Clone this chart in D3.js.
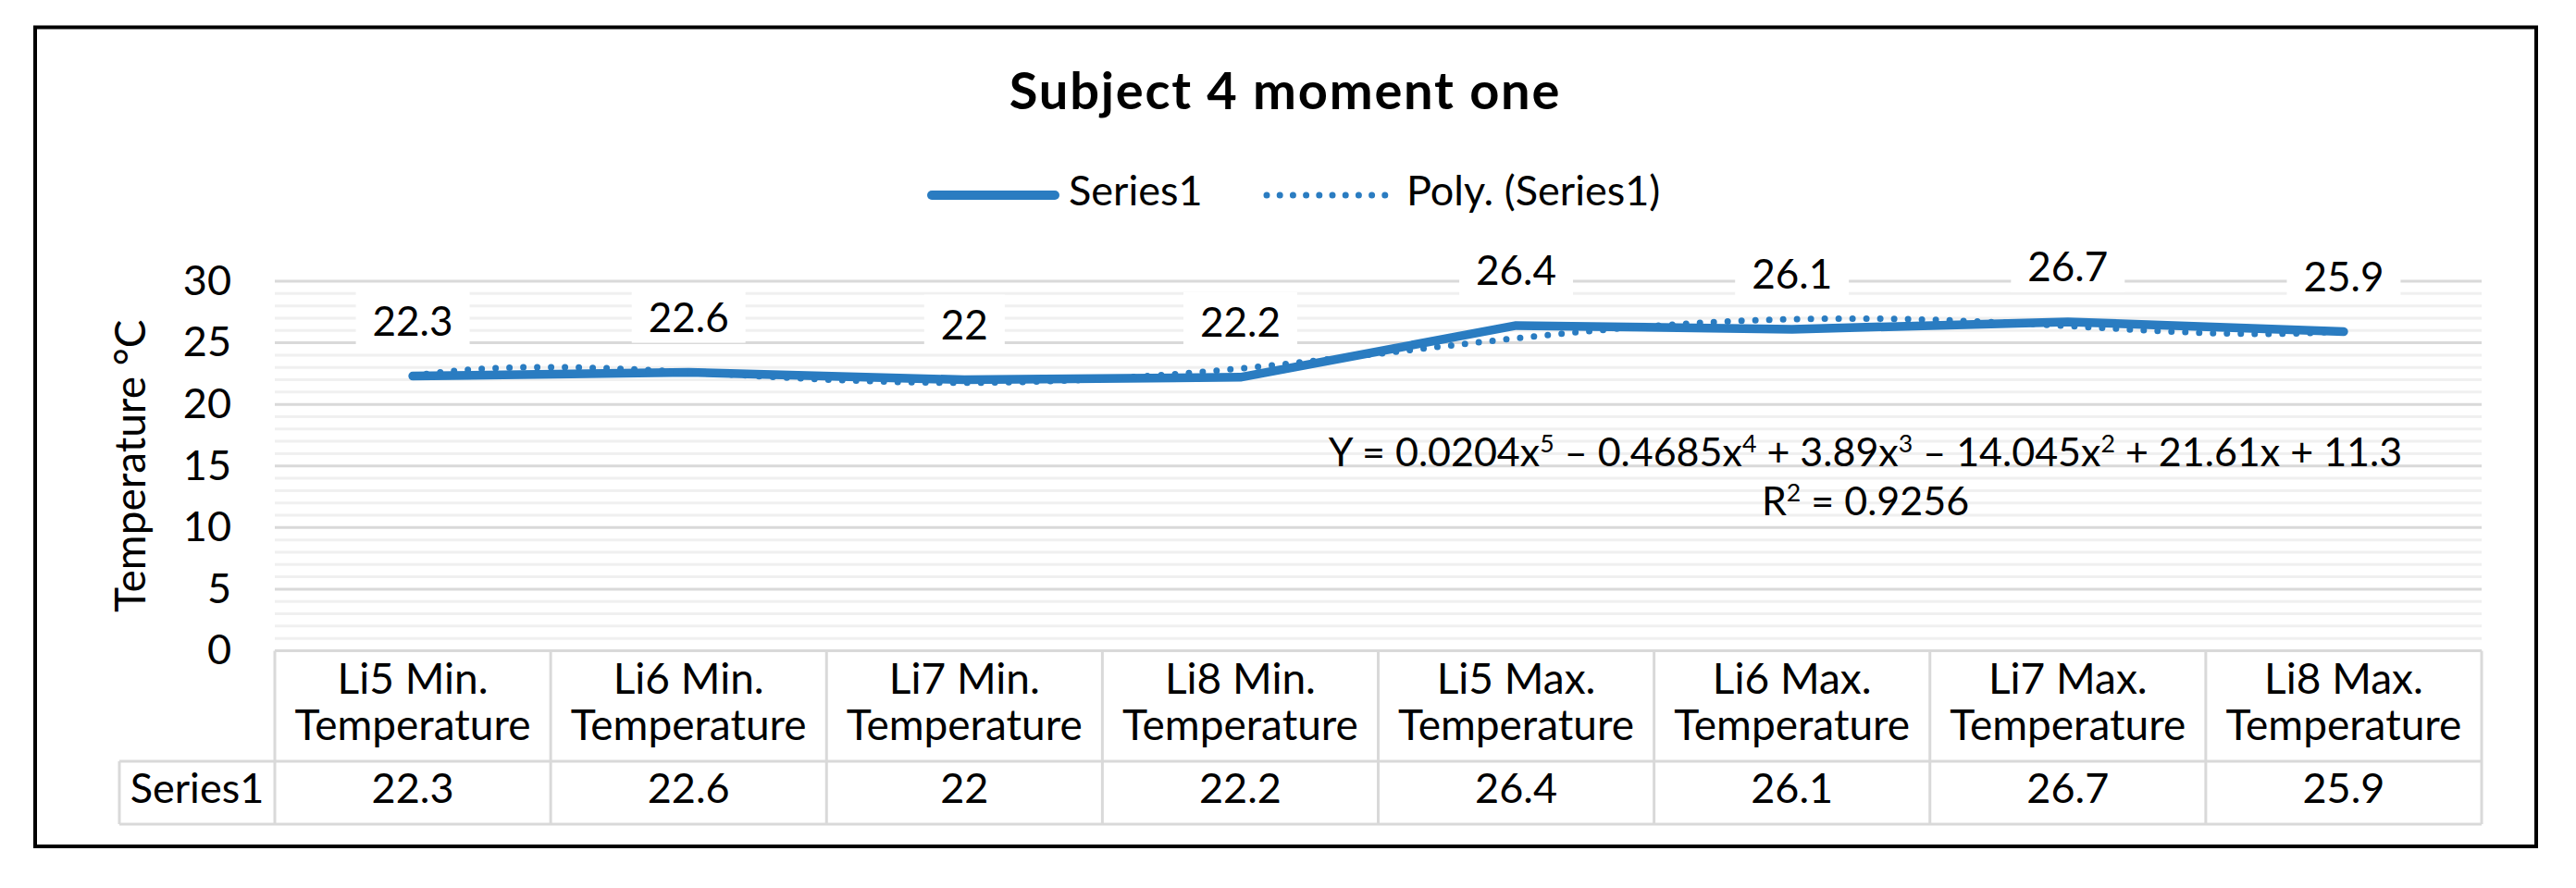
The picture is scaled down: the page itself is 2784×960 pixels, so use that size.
<!DOCTYPE html>
<html>
<head>
<meta charset="utf-8">
<script src="https://cdn.jsdelivr.net/npm/d3@7"></script>
<style>
  html, body { margin: 0; padding: 0; background: #fff; }
  svg { display: block; }
  text { font-family: Lato, "Open Sans", "Noto Sans", sans-serif; fill: #000; }
</style>
</head>
<body>
<svg id="chart" width="2784" height="960"></svg>
<script>
// ---------------- data ----------------
const chartTitle = "Subject 4 moment one";
const categories = [
  "Li5 Min. Temperature", "Li6 Min. Temperature", "Li7 Min. Temperature", "Li8 Min. Temperature",
  "Li5 Max. Temperature", "Li6 Max. Temperature", "Li7 Max. Temperature", "Li8 Max. Temperature"
];
const seriesName = "Series1";
const values = [22.3, 22.6, 22, 22.2, 26.4, 26.1, 26.7, 25.9];
const yTicks = [0, 5, 10, 15, 20, 25, 30];
const yMinorStep = 1;
const yTitle = "Temperature °C";
const trendName = "Poly. (Series1)";
const trendOrder = 5;
const equationParts = [
  ["Y = 0.0204x", false], ["5", true], [" – 0.4685x", false], ["4", true],
  [" + 3.89x", false], ["3", true], [" – 14.045x", false], ["2", true],
  [" + 21.61x + 11.3", false]
];
const rSquaredParts = [["R", false], ["2", true], [" = 0.9256", false]];

// ---------------- layout ----------------
const W = 2784, H = 960;
const plot = { left: 297, right: 2682, top: 304, bottom: 703.5 };
const table = { headerBottom: 823, bottom: 891, seriesLeft: 129 };
const blue = "#2a7cc1";
const fontSize = 44;
const headerFont = 46;

const svg = d3.select("#chart");
svg.append("rect").attr("width", W).attr("height", H).attr("fill", "#fff");

// outer border
svg.append("rect")
  .attr("x", 38).attr("y", 29.5).attr("width", 2741 - 38).attr("height", 915 - 29.5)
  .attr("fill", "none").attr("stroke", "#000").attr("stroke-width", 4);

// scales
const x = d3.scaleBand().domain(categories).range([plot.left, plot.right]).padding(0);
const bw = x.bandwidth();
const cx = c => x(c) + bw / 2;
const y = d3.scaleLinear().domain([0, 30]).range([plot.bottom, plot.top]);
const xIdx = d3.scaleLinear().domain([1, categories.length]).range([cx(categories[0]), cx(categories[categories.length - 1])]);

// gridlines (minor then major)
const minorVals = d3.range(0, 30 + 1e-9, yMinorStep).filter(v => !yTicks.includes(v));
svg.append("g").selectAll("line").data(minorVals).join("line")
  .attr("x1", plot.left).attr("x2", plot.right)
  .attr("y1", d => y(d)).attr("y2", d => y(d))
  .attr("stroke", "#f0f0f0").attr("stroke-width", 3);
svg.append("g").selectAll("line").data(yTicks.filter(v => v > 0)).join("line")
  .attr("x1", plot.left).attr("x2", plot.right)
  .attr("y1", d => y(d)).attr("y2", d => y(d))
  .attr("stroke", "#d9d9d9").attr("stroke-width", 3);

// y axis tick labels
const yAxis = d3.axisLeft(y).tickValues(yTicks).tickSize(0).tickPadding(0).tickFormat(d3.format("d"));
const gy = svg.append("g").attr("transform", "translate(250,0)").call(yAxis);
gy.select(".domain").remove();
gy.selectAll("text").attr("font-size", fontSize + 1).attr("font-family", "Lato, sans-serif").attr("fill", "#000");

// y axis title
svg.append("text")
  .attr("transform", "translate(157," + ((plot.top + plot.bottom) / 2) + ") rotate(-90)")
  .attr("text-anchor", "middle").attr("font-size", fontSize + 2)
  .text(yTitle);

// data labels with white boxes
const lblG = svg.append("g");
values.forEach((v, i) => {
  const c = categories[i];
  const base = y(v) - 44;
  const g = lblG.append("g");
  const r = g.append("rect").attr("fill", "#fff");
  const t = g.append("text").attr("x", cx(c)).attr("y", base)
    .attr("text-anchor", "middle").attr("font-size", fontSize).text(String(v));
  const w = t.node().getComputedTextLength();
  r.attr("x", cx(c) - w / 2 - 18).attr("y", base - 48).attr("width", w + 36).attr("height", 60);
});

// polynomial trendline (least squares fit of order trendOrder on the series)
function polyFit(xs, ys, order) {
  const m = d3.mean(xs), s = (d3.max(xs) - d3.min(xs)) / 2;
  const n = order + 1;
  const A = Array.from({ length: n }, () => new Array(n + 1).fill(0));
  xs.forEach((xv, k) => {
    const t = (xv - m) / s;
    for (let i = 0; i < n; i++) {
      for (let j = 0; j < n; j++) A[i][j] += Math.pow(t, i + j);
      A[i][n] += ys[k] * Math.pow(t, i);
    }
  });
  for (let col = 0; col < n; col++) {
    let piv = col;
    for (let r = col + 1; r < n; r++) if (Math.abs(A[r][col]) > Math.abs(A[piv][col])) piv = r;
    [A[col], A[piv]] = [A[piv], A[col]];
    for (let r = 0; r < n; r++) {
      if (r === col) continue;
      const f = A[r][col] / A[col][col];
      for (let k = col; k <= n; k++) A[r][k] -= f * A[col][k];
    }
  }
  const coef = A.map((row, i) => row[n] / row[i]);
  return xv => { const t = (xv - m) / s; return coef.reduce((acc, c, i) => acc + c * Math.pow(t, i), 0); };
}
const xsIdx = values.map((_, i) => i + 1);
const fit = polyFit(xsIdx, values, trendOrder);
const trendPts = d3.range(1, categories.length + 1e-9, 0.02).map(t => [t, fit(t)]);

// series line
const line = d3.line().x((d, i) => cx(categories[i])).y(d => y(d));
svg.append("path").datum(values).attr("d", line)
  .attr("fill", "none").attr("stroke", blue).attr("stroke-width", 9.5)
  .attr("stroke-linecap", "round").attr("stroke-linejoin", "round");

const trendLine = d3.line().x(d => xIdx(d[0])).y(d => y(d[1]));
svg.append("path").datum(trendPts).attr("d", trendLine)
  .attr("fill", "none").attr("stroke", blue).attr("stroke-width", 7)
  .attr("stroke-linecap", "round").attr("stroke-dasharray", "0 15");

// equation + R²
function richText(parts, xPos, yPos, size) {
  const t = svg.append("text").attr("x", xPos).attr("y", yPos)
    .attr("text-anchor", "middle").attr("font-size", size);
  parts.forEach(([s, sup]) => {
    const ts = t.append("tspan").text(s);
    if (sup) ts.attr("font-size", size * 0.62).attr("baseline-shift", "55%");
  });
  return t;
}
richText(equationParts, 2016, 504, 43);
richText(rSquaredParts, 2016, 557, 43);

// table
const tg = svg.append("g").attr("stroke", "#d9d9d9").attr("stroke-width", 3);
tg.append("line").attr("x1", plot.left).attr("x2", plot.right).attr("y1", plot.bottom).attr("y2", plot.bottom);
tg.append("line").attr("x1", table.seriesLeft).attr("x2", plot.right).attr("y1", table.headerBottom).attr("y2", table.headerBottom);
tg.append("line").attr("x1", table.seriesLeft).attr("x2", plot.right).attr("y1", table.bottom).attr("y2", table.bottom);
tg.append("line").attr("x1", table.seriesLeft).attr("x2", table.seriesLeft).attr("y1", table.headerBottom).attr("y2", table.bottom);
const edges = categories.map(c => x(c)).concat([plot.right]);
tg.selectAll("line.v").data(edges).join("line").attr("class", "v")
  .attr("x1", d => d).attr("x2", d => d).attr("y1", plot.bottom).attr("y2", table.bottom);

// category header text (two lines)
categories.forEach(c => {
  const words = c.split(" ");
  const t = svg.append("text").attr("text-anchor", "middle").attr("font-size", headerFont);
  t.append("tspan").attr("x", cx(c)).attr("y", 750).text(words.slice(0, 2).join(" "));
  t.append("tspan").attr("x", cx(c)).attr("y", 800).text(words.slice(2).join(" "));
});
// series row
svg.append("text").attr("x", (table.seriesLeft + plot.left) / 2).attr("y", 868)
  .attr("text-anchor", "middle").attr("font-size", fontSize + 1).text(seriesName);
svg.append("g").selectAll("text").data(values).join("text")
  .attr("x", (d, i) => cx(categories[i])).attr("y", 868)
  .attr("text-anchor", "middle").attr("font-size", fontSize + 1).text(d => String(d));

// title
svg.append("text").attr("x", 1389).attr("y", 118).attr("text-anchor", "middle")
  .attr("font-size", 56).attr("font-weight", "bold").attr("letter-spacing", 1.8).text(chartTitle);

// legend
const lg = svg.append("g");
lg.append("line").attr("x1", 1007).attr("x2", 1140).attr("y1", 211).attr("y2", 211)
  .attr("stroke", blue).attr("stroke-width", 10).attr("stroke-linecap", "round");
lg.append("text").attr("x", 1155).attr("y", 222).attr("font-size", 45).text(seriesName);
lg.append("line").attr("x1", 1369).attr("x2", 1497).attr("y1", 211).attr("y2", 211)
  .attr("stroke", blue).attr("stroke-width", 7).attr("stroke-linecap", "round").attr("stroke-dasharray", "0 14.2");
lg.append("text").attr("x", 1520).attr("y", 222).attr("font-size", 45).text(trendName);
</script>
</body>
</html>
